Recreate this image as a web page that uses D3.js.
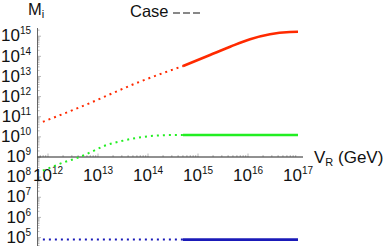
<!DOCTYPE html>
<html>
<head>
<meta charset="utf-8">
<script src="https://cdn.jsdelivr.net/npm/d3@7"></script>
<style>
  body { margin: 0; background: #fff; }
  svg { display: block; font-family: "Liberation Sans", Arial, sans-serif; }
</style>
</head>
<body>
<svg width="387" height="246"></svg>
<script>
// V_R (GeV) and masses M_i
var vrRedLow = [7.9e11, 4.4e12, 6.9e13, 5.0e14];
var mRedLow = [5.6e10, 3.0e11, 5.5e12, 3.3e13];
var vrRedHigh = [5.0e14, 1.74e15, 4.4e15, 1.1e16, 2.75e16, 6.9e16, 1e17];
var mRedHigh = [3.3e13, 1.17e14, 3.0e14, 7.1e14, 1.26e15, 1.62e15, 1.66e15];

var vrGreenLow = [7.9e11, 2.1e12, 4.0e12, 7.4e12, 1.35e13, 2.95e13, 6.3e13, 1.35e14, 2.95e14, 5.0e14];
var mGreenLow = [2.1e8, 5.5e8, 9.3e8, 1.8e9, 3.6e9, 6.2e9, 9.1e9, 1.15e10, 1.23e10, 1.23e10];
var vrGreenHigh = [5.0e14, 1e17];
var mGreenHigh = [1.23e10, 1.23e10];

var vrBlueLow = [7.9e11, 5.0e14];
var mBlueLow = [7.9e4, 7.9e4];
var vrBlueHigh = [5.0e14, 1e17];
var mBlueHigh = [7.9e4, 7.9e4];

var xTickExp = [12, 13, 14, 15, 16, 17];
var yTickExp = [5, 6, 7, 8, 9, 10, 11, 12, 13, 14, 15];

var svg = d3.select("svg");

// log scales, 10^12 .. 10^17 along x, 10^9 is where the x axis sits
var x = d3.scaleLog().domain([1e12, 1e17]).range([48, 298]);
var y = d3.scaleLog().domain([1e9, 1e15]).range([157, 36.2]);

var axisX0 = 37.5, axisX1 = 303;
var axisY0 = 28, axisY1 = 246;

//////////// AXES ////////////

// minor ticks
var minorX = [];
for (var e = 11; e <= 16; e++)
    for (var k = 1; k <= 9; k++) {
        var v = k * Math.pow(10, e);
        if (x(v) >= axisX0 && x(v) <= axisX1) minorX.push(v);
    }
svg.append("g").selectAll("line").data(minorX).enter().append("line")
    .attr("x1", function (d) { return x(d); })
    .attr("x2", function (d) { return x(d); })
    .attr("y1", 157)
    .attr("y2", function (d) { return Math.abs(Math.log10(d) % 1) < 1e-9 ? 153.5 : 155; })
    .attr("stroke", "#999").attr("stroke-width", 0.7);

var minorY = [];
for (var e2 = 4; e2 <= 15; e2++)
    for (var k2 = 1; k2 <= 9; k2++) {
        var v2 = k2 * Math.pow(10, e2);
        if (y(v2) >= axisY0 && y(v2) <= axisY1) minorY.push(v2);
    }
svg.append("g").selectAll("line").data(minorY).enter().append("line")
    .attr("x1", axisX0)
    .attr("x2", function (d) { return Math.abs(Math.log10(d) % 1) < 1e-9 ? axisX0 + 3.5 : axisX0 + 2; })
    .attr("y1", function (d) { return y(d); })
    .attr("y2", function (d) { return y(d); })
    .attr("stroke", "#999").attr("stroke-width", 0.7);

// axis lines
svg.append("line")
    .attr("x1", axisX0).attr("x2", axisX0).attr("y1", axisY0).attr("y2", axisY1)
    .attr("stroke", "#666").attr("stroke-width", 1);
svg.append("line")
    .attr("x1", axisX0).attr("x2", axisX1).attr("y1", 157).attr("y2", 157)
    .attr("stroke", "#222").attr("stroke-width", 1);

// tick labels 10^n
var xLab = svg.append("g").selectAll("text").data(xTickExp).enter().append("text")
    .attr("x", function (d) { return x(Math.pow(10, d)); })
    .attr("y", 180.5)
    .attr("text-anchor", "middle")
    .attr("font-size", 17)
    .attr("fill", "#111");
xLab.append("tspan").text("10");
xLab.append("tspan").attr("font-size", 10).attr("dy", -7).text(function (d) { return d; });

var yLab = svg.append("g").selectAll("text").data(yTickExp).enter().append("text")
    .attr("x", 31)
    .attr("y", function (d) { return y(Math.pow(10, d)) + 5.2; })
    .attr("text-anchor", "end")
    .attr("font-size", 17)
    .attr("fill", "#111");
yLab.append("tspan").text("10");
yLab.append("tspan").attr("font-size", 10).attr("dy", -7).text(function (d) { return d; });

// axis titles
var mTitle = svg.append("text").attr("x", 28).attr("y", 15).attr("font-size", 16.5).attr("fill", "#111");
mTitle.append("tspan").text("M");
mTitle.append("tspan").attr("font-size", 11).attr("dy", 3).text("i");

var vTitle = svg.append("text").attr("x", 314).attr("y", 163).attr("font-size", 17).attr("fill", "#111");
vTitle.append("tspan").text("V");
vTitle.append("tspan").attr("font-size", 11).attr("dy", 3).text("R");
vTitle.append("tspan").attr("dy", -3).text(" (GeV)");

// title with its dashed sample
svg.append("text").attr("x", 130).attr("y", 16.8).attr("font-size", 16.5).attr("fill", "#111").text("Case");
svg.append("line")
    .attr("x1", 173).attr("x2", 202).attr("y1", 13).attr("y2", 13)
    .attr("stroke", "#888").attr("stroke-width", 2.2).attr("stroke-dasharray", "7,3");

//////////// CURVES ////////////

var line = d3.line()
    .x(function (d) { return x(d[0]); })
    .y(function (d) { return y(d[1]); })
    .curve(d3.curveMonotoneX);

function drawPart(xs, ms, color, dotted) {
    var pts = xs.map(function (v, i) { return [v, ms[i]]; });
    svg.append("path")
        .datum(pts)
        .attr("d", line)
        .attr("fill", "none")
        .attr("stroke", color)
        .attr("stroke-width", dotted ? 2 : 2.6)
        .attr("stroke-dasharray", dotted ? "2,4" : null);
}

drawPart(vrRedLow, mRedLow, "#ff2a00", true);
drawPart(vrRedHigh, mRedHigh, "#ff2a00", false);
drawPart(vrGreenLow, mGreenLow, "#22ee22", true);
drawPart(vrGreenHigh, mGreenHigh, "#22ee22", false);
drawPart(vrBlueLow, mBlueLow, "#1a1ab8", true);
drawPart(vrBlueHigh, mBlueHigh, "#1a1ab8", false);
</script>
</body>
</html>
